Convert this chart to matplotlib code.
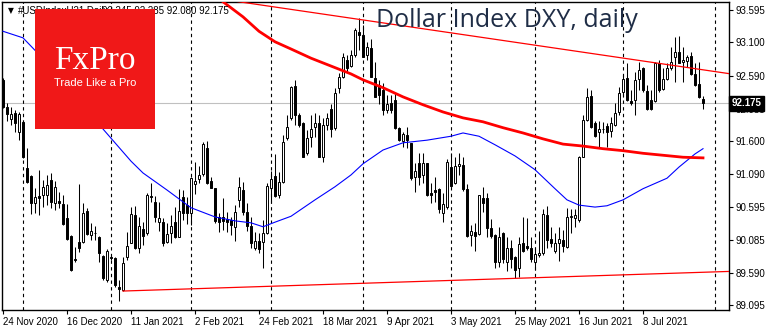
import matplotlib
matplotlib.use("Agg")
import matplotlib.pyplot as plt
from matplotlib.patches import Rectangle
import numpy as np


# DATA (one bar per trading day from 24 Nov 2020)

opens = [92.53, 92.12, 91.93, 92.02, 91.74, 91.89, 91.19, 91.06, 90.65, 90.76,
         90.77, 90.77, 91.00, 90.65, 90.68, 90.64, 90.42, 90.15, 89.80, 90.06,
         90.06, 90.53, 90.17, 90.20, 90.13, 89.85, 89.48, 89.83, 89.81, 89.37,
         89.33, 89.83, 90.04, 90.47, 89.97, 90.26, 90.20, 90.76, 90.67, 90.36,
         90.36, 90.06, 90.20, 90.36, 90.13, 90.74, 90.62, 90.50, 90.94, 91.02,
         91.09, 91.49, 90.99, 90.88, 90.44, 90.44, 90.41, 90.39, 90.29, 90.70,
         90.85, 90.52, 90.30, 89.97, 90.07, 90.06, 90.20, 90.88, 91.06, 90.77,
         90.97, 91.64, 91.95, 92.44, 92.00, 91.87, 91.41, 91.66, 91.81, 91.87,
         91.35, 91.84, 92.09, 91.80, 92.41, 92.57, 92.83, 92.74, 92.91, 93.26,
         93.21, 92.91, 93.02, 92.56, 92.45, 92.38, 92.07, 92.18, 92.22, 91.80,
         91.60, 91.69, 91.57, 91.05, 91.26, 91.08, 91.26, 90.80, 90.85, 90.87,
         90.50, 90.59, 91.20, 90.96, 91.22, 91.23, 90.87, 90.17, 90.21, 90.18,
         90.73, 90.73, 90.27, 90.17, 89.75, 90.20, 89.75, 89.97, 89.83, 89.66,
         90.04, 90.00, 89.97, 89.75, 89.86, 89.89, 90.47, 90.10, 89.92, 90.04,
         90.09, 89.98, 90.44, 90.42, 90.39, 91.35, 91.92, 92.28, 91.87, 91.73,
         91.78, 91.83, 91.75, 91.84, 92.04, 92.34, 92.56, 92.21, 92.22, 92.54,
         92.71, 92.36, 92.22, 92.21, 92.79, 92.39, 92.54, 92.71, 92.88, 92.95,
         92.80, 92.82, 92.89, 92.62, 92.47, 92.245]

highs = [92.56, 92.18, 92.12, 92.07, 92.04, 91.92, 91.49, 91.08, 90.88, 91.16,
         91.00, 91.08, 91.11, 90.99, 90.82, 90.77, 90.64, 90.17, 89.98, 90.94,
         90.65, 90.58, 90.35, 90.30, 90.15, 89.86, 89.95, 89.86, 89.83, 89.48,
         89.83, 90.21, 90.59, 90.61, 90.44, 90.36, 90.80, 90.96, 90.76, 90.67,
         90.42, 90.35, 90.47, 90.59, 90.87, 90.85, 90.74, 91.05, 91.28, 91.22,
         91.58, 91.60, 91.05, 90.88, 90.50, 90.73, 90.52, 90.44, 90.62, 91.05,
         90.97, 90.65, 90.44, 90.21, 90.20, 90.39, 90.96, 91.14, 91.40, 91.13,
         91.69, 91.99, 92.44, 92.53, 92.02, 91.89, 91.77, 91.99, 92.02, 91.99,
         91.95, 92.02, 92.16, 92.41, 92.63, 92.94, 92.91, 92.99, 93.32, 93.47,
         93.37, 93.11, 93.15, 92.80, 92.53, 92.48, 92.30, 92.30, 92.33, 91.81,
         91.73, 91.81, 91.57, 91.26, 91.42, 91.42, 91.26, 90.96, 91.05, 90.88,
         90.80, 91.32, 91.42, 91.35, 91.42, 91.35, 90.94, 90.32, 90.35, 90.77,
         90.90, 90.80, 90.41, 90.18, 90.29, 90.21, 90.13, 90.09, 89.85, 90.13,
         90.44, 90.42, 90.13, 89.97, 90.23, 90.56, 90.61, 90.29, 90.20, 90.29,
         90.24, 90.58, 90.56, 90.56, 91.37, 91.99, 92.41, 92.38, 91.90, 91.90,
         91.89, 91.87, 91.96, 92.18, 92.42, 92.60, 92.79, 92.38, 92.65, 92.80,
         92.73, 92.45, 92.38, 92.80, 92.83, 92.71, 92.79, 93.03, 93.18, 93.20,
         93.03, 92.91, 92.95, 92.79, 92.80, 92.285]

lows = [92.10, 91.90, 91.84, 91.74, 91.61, 91.34, 90.96, 90.49, 90.50, 90.47,
        90.59, 90.62, 90.58, 90.55, 90.58, 90.32, 90.09, 89.62, 89.75, 89.91,
        90.04, 90.17, 90.09, 90.09, 89.75, 89.48, 89.45, 89.78, 89.37, 89.16,
        89.31, 89.78, 90.04, 89.95, 89.89, 90.01, 90.17, 90.67, 90.36, 90.23,
        90.00, 90.04, 90.04, 90.12, 90.13, 90.39, 90.33, 90.32, 90.79, 90.96,
        91.06, 90.94, 90.88, 90.35, 90.21, 90.24, 90.21, 90.17, 90.07, 90.59,
        90.47, 90.23, 89.97, 89.94, 89.89, 89.66, 90.18, 90.65, 90.74, 90.73,
        90.96, 91.61, 91.92, 91.84, 91.81, 91.35, 91.38, 91.51, 91.66, 91.35,
        91.28, 91.77, 91.66, 91.77, 92.33, 92.56, 92.65, 92.73, 92.88, 92.99,
        92.88, 92.83, 92.57, 92.27, 92.16, 91.99, 92.02, 92.02, 91.78, 91.60,
        91.51, 91.49, 91.00, 90.82, 90.93, 90.96, 90.76, 90.65, 90.67, 90.50,
        90.36, 90.56, 90.90, 90.94, 91.08, 90.84, 90.13, 90.00, 89.92, 90.17,
        90.52, 90.13, 90.12, 89.66, 89.68, 89.74, 89.62, 89.66, 89.51, 89.52,
        89.91, 89.94, 89.75, 89.63, 89.83, 89.86, 89.97, 89.98, 89.89, 89.77,
        89.91, 89.97, 90.20, 90.29, 90.36, 91.35, 91.90, 91.80, 91.66, 91.51,
        91.72, 91.51, 91.66, 91.83, 91.99, 92.27, 92.21, 92.15, 91.99, 92.38,
        92.35, 92.07, 92.07, 92.19, 92.35, 92.38, 92.53, 92.68, 92.50, 92.79,
        92.50, 92.73, 92.60, 92.44, 92.25, 92.08]

closes = [92.12, 92.01, 92.01, 91.87, 92.01, 91.35, 90.97, 90.65, 90.74, 90.73,
          90.90, 90.93, 90.67, 90.90, 90.65, 90.33, 90.10, 89.63, 89.79, 89.97,
          90.50, 90.18, 90.23, 90.19, 89.89, 89.51, 89.92, 89.81, 89.40, 89.34,
          89.74, 90.00, 90.48, 89.97, 90.30, 90.15, 90.77, 90.75, 90.44, 90.42,
          90.04, 90.18, 90.30, 90.13, 90.53, 90.50, 90.50, 91.03, 90.99, 91.08,
          91.55, 90.96, 90.88, 90.38, 90.36, 90.38, 90.36, 90.32, 90.52, 90.90,
          90.52, 90.30, 90.04, 90.07, 89.95, 90.20, 90.91, 91.02, 90.76, 90.97,
          91.58, 91.81, 92.42, 92.00, 91.84, 91.35, 91.64, 91.78, 91.87, 91.35,
          91.84, 91.95, 91.78, 92.33, 92.57, 92.88, 92.71, 92.91, 93.29, 93.21,
          92.88, 93.03, 92.57, 92.27, 92.30, 92.07, 92.16, 92.07, 91.80, 91.61,
          91.70, 91.61, 91.03, 91.14, 91.05, 91.26, 90.77, 90.77, 90.82, 90.56,
          90.64, 91.28, 90.91, 91.22, 91.25, 90.87, 90.15, 90.23, 90.15, 90.77,
          90.65, 90.27, 90.15, 89.75, 90.14, 89.80, 89.97, 89.80, 89.63, 90.03,
          89.92, 89.97, 89.80, 89.87, 89.89, 90.48, 90.09, 90.04, 90.04, 90.10,
          90.00, 90.44, 90.45, 90.47, 91.35, 91.92, 92.27, 91.81, 91.67, 91.78,
          91.78, 91.73, 91.87, 92.02, 92.33, 92.54, 92.22, 92.18, 92.53, 92.68,
          92.38, 92.08, 92.08, 92.79, 92.38, 92.54, 92.71, 92.80, 92.95, 92.79,
          92.83, 92.88, 92.62, 92.45, 92.27, 92.175]

# fast moving average (blue), read at a handful of bars
blue_idx = [0, 5, 8, 25, 32, 35, 41, 47, 53, 58, 62, 65, 68, 72, 78, 83, 87, 90,
            95, 100, 106, 112, 115, 119, 123, 128, 133, 138, 141, 144, 148, 151,
            155, 160, 166, 169, 173, 175]
blue_val = [93.27, 93.17, 92.98, 91.78, 91.29, 91.11, 90.85, 90.58, 90.44, 90.38,
            90.35, 90.29, 90.36, 90.45, 90.70, 90.90, 91.08, 91.25, 91.46, 91.57,
            91.61, 91.67, 91.72, 91.67, 91.54, 91.37, 91.16, 90.87, 90.70, 90.62,
            90.59, 90.61, 90.70, 90.87, 91.03, 91.20, 91.40, 91.48]

# slow moving average (thick red)
red_idx = [52, 55, 60, 64, 68, 72, 77, 82, 87, 90, 95, 100, 105, 110, 115, 120,
           125, 130, 135, 140, 145, 150, 155, 160, 165, 170, 175]
red_val = [93.87, 93.72, 93.49, 93.27, 93.11, 93.00, 92.86, 92.74, 92.62, 92.53,
           92.41, 92.27, 92.15, 92.04, 91.95, 91.89, 91.80, 91.72, 91.63, 91.55,
           91.52, 91.48, 91.45, 91.41, 91.38, 91.35, 91.34]

# hand-drawn trend lines: (bar, price) end points
upper_trend = [(40, 93.89), (182, 92.62)]
lower_trend = [(30, 89.31), (182, 89.61)]

last_price = 92.175
month_starts = [5, 27, 47, 67, 90, 112, 133, 155, 178]

price_ticks = [93.595, 93.100, 92.590, 92.085, 91.600, 91.090, 90.595, 90.085, 89.590, 89.095]
date_pos = [0, 16, 32, 48, 64, 80, 96, 112, 128, 144, 160]
date_labels = ["24 Nov 2020", "16 Dec 2020", "11 Jan 2021", "2 Feb 2021", "24 Feb 2021",
               "18 Mar 2021", "9 Apr 2021", "3 May 2021", "25 May 2021", "16 Jun 2021",
               "8 Jul 2021"]


# FIGURE

W, H = 770, 330
fig = plt.figure(figsize=(W / 100, H / 100), dpi=100)
ax = fig.add_axes([2 / W, 20 / H, 727 / W, 308.5 / H])

o = np.array(opens)
h = np.array(highs)
l = np.array(lows)
c = np.array(closes)
x = np.arange(len(o))

ax.axhline(last_price, color="#c0c0c0", lw=0.8, zorder=1)
for m in month_starts:
    ax.axvline(m, color="black", lw=0.8, ls=(0, (3, 3)), zorder=1)

# candles
ax.vlines(x, l, h, color="black", lw=0.75, zorder=3)
up = c >= o
ax.bar(x, np.abs(c - o), bottom=np.minimum(o, c), width=0.62,
       color=np.where(up, "white", "black"), edgecolor="black", linewidth=0.7, zorder=4)

ax.plot(blue_idx, blue_val, color="#0000ff", lw=0.8, zorder=5)
ax.plot(red_idx, red_val, color="#ff0000", lw=2.0, zorder=5)
ax.plot([p[0] for p in upper_trend], [p[1] for p in upper_trend], color="#ff0000", lw=0.9, zorder=5)
ax.plot([p[0] for p in lower_trend], [p[1] for p in lower_trend], color="#ff0000", lw=0.9, zorder=5)

ax.set_xlim(-0.25, 181.5)
ax.set_ylim(89.021, 93.724)

ax.yaxis.tick_right()
ax.set_yticks(price_ticks)
ax.set_yticklabels([f"{v:.3f}" for v in price_ticks])
ax.set_xticks(date_pos)
ax.set_xticklabels(date_labels)
for lab in ax.get_xticklabels():
    lab.set_horizontalalignment("left")
ax.tick_params(axis="both", direction="out", length=3, width=0.8, labelsize=7,
               colors="black", pad=2)
for lab in ax.get_xticklabels() + ax.get_yticklabels():
    lab.set_family("Liberation Sans")
for s in ax.spines.values():
    s.set_linewidth(1.0)
    s.set_color("black")

# current price box on the scale
ax.text(1.004, last_price, f"{last_price:.3f}", transform=ax.get_yaxis_transform(),
        ha="left", va="center", fontsize=7, color="white", fontweight="bold",
        family="Liberation Sans", clip_on=False, zorder=10,
        bbox=dict(boxstyle="square,pad=0.25", fc="black", ec="black"))

# header line, partly hidden by the logo
fig.text(8 / W, 1 - 11 / H, "\u25bc", fontsize=5.5, va="center", color="black", zorder=0.5)
fig.text(18 / W, 1 - 11 / H, "#USDIndexU21,Daily", fontsize=7, va="center",
         family="Liberation Sans", color="black", zorder=0.5)
fig.text(229 / W, 1 - 11 / H, "92.245 92.285 92.080 92.175", fontsize=7, va="center",
         ha="right", family="Liberation Sans", color="black", zorder=0.5)

fig.text(376 / W, 1 - 27 / H, "Dollar Index DXY, daily", fontsize=18, va="baseline",
         family="Open Sans", color="#1f2d46", zorder=6)

# logo
fig.add_artist(Rectangle((35 / W, 1 - 129 / H), 120 / W, 120 / H, transform=fig.transFigure,
                         facecolor="#f01818", edgecolor="none", zorder=1))
fig.text(95 / W, 1 - 61 / H, "FxPro", fontsize=24, ha="center", va="center",
         family="Liberation Serif", color="white", zorder=2)
fig.text(95 / W, 1 - 83 / H, "Trade Like a Pro", fontsize=8, ha="center", va="center",
         family="Liberation Sans", color="white", zorder=2)

fig.savefig("out.png", dpi=100)
